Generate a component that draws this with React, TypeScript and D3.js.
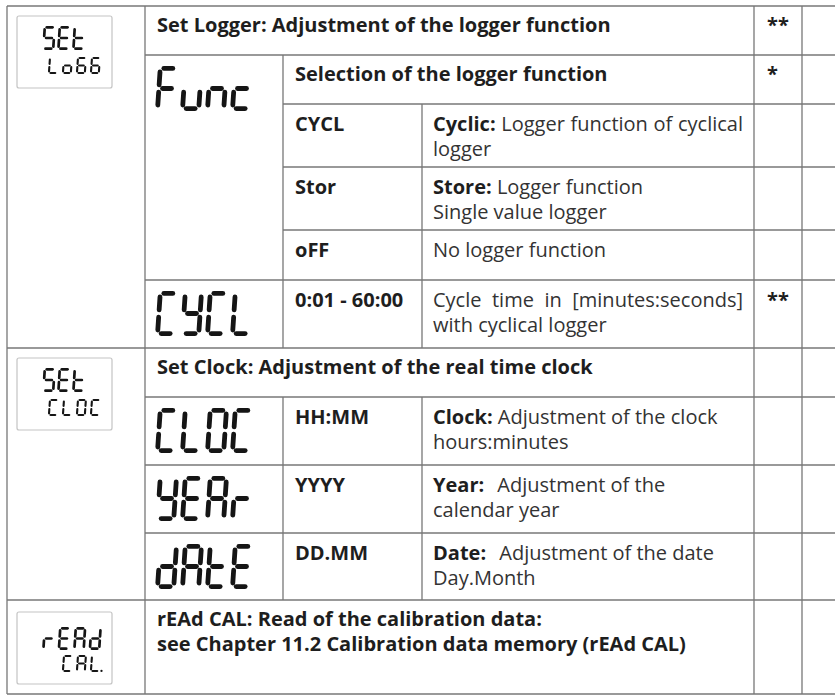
import React, { useLayoutEffect, useRef } from "react";
import * as d3 from "d3";

// ---------- DATA ----------
const sectionTitles: string[][] = [
  ["Set Logger: Adjustment of the logger function"],
  ["Set Clock: Adjustment of the real time clock"],
  ["rEAd CAL: Read of the calibration data:", "see Chapter 11.2 Calibration data memory (rEAd CAL)"],
];
const sectionMarks = ["**", "", ""];
const sectionIcons = [["SEt", "Lo66"], ["SEt", "CLOC"], ["rEAd", "CAL."]];
const paramCodes = ["Func", "CYCL", "CLOC", "YEAr", "dAtE"];
const paramTitle = "Selection of the logger function";
const paramTitleMark = "*";
const optionValues = ["CYCL", "Stor", "oFF", "0:01 - 60:00", "HH:MM", "YYYY", "DD.MM"];
const optionLabels = ["Cyclic:", "Store:", "", "", "Clock:", "Year:", "Date:"];
const optionText: string[][] = [
  ["Logger function of cyclical", "logger"],
  ["Logger function", "Single value logger"],
  ["No logger function"],
  ["Cycle time in [minutes:seconds]", "with cyclical logger"],
  ["Adjustment of the clock", "hours:minutes"],
  ["Adjustment of the", "calendar year"],
  ["Adjustment of the date", "Day.Month"],
];
const optionMarks = ["", "", "", "**", "", "", ""];

// ---------- LAYOUT ----------
const W = 835, H = 695;
const colX = [7, 145, 283, 422, 754, 802, 835];
const rowHeights = [49, 49, 63, 63, 50, 68, 49, 68, 68, 67, 94];
const rowY = [6, ...d3.cumsum(rowHeights).map((v) => v + 6)];
const sectionRows = [0, 6, 10];
const paramRows = [1, 5, 7, 8, 9];
const paramTitleRow = 1;
const optionRows = [2, 3, 4, 5, 7, 8, 9];
const optionJustify = [true, false, false, true, false, false, false];
const optionGap = [0, 0, 0, 0, 0, 8, 8];
const hLines: [number, number][] = [
  [0, 0], [1, 1], [2, 2], [3, 2], [4, 2], [5, 1], [6, 0], [7, 1], [8, 1], [9, 1], [10, 0], [11, 0],
];
const vLines: [number, number, number][] = [
  [0, 0, 11], [1, 0, 11], [4, 0, 11], [5, 0, 11],
  [2, 1, 6], [2, 7, 10], [3, 2, 6], [3, 7, 10],
];
const iconLayout = [
  { box: 10, l1: 10, l2: 41 },
  { box: 10, l1: 10, l2: 41 },
  { box: 12, l1: 15, l2: 43 },
];

const FONT = "'Open Sans', 'Noto Sans', sans-serif";
const FS = 20;
const LINE = 25;
const BASE = 26;
const TITLE_LINE = 25;
const LINE_COLOR = "#777";
const TEXT_BOLD = "#1e1e1e";
const TEXT_REG = "#333";
const INK = "#151515";

// ---------- 7-SEGMENT ----------
const SEG: Record<string, string> = {
  S: "afgcd", E: "afged", t: "fged", L: "fed", o: "gcde", "6": "afgedc",
  F: "afge", u: "cde", n: "egc", c: "ged", C: "afed", Y: "fbgcd",
  O: "abcdef", A: "abcefg", r: "eg", d: "bcdeg",
};

function glyphSegs(ch: string, x0: number, y0: number, w: number, h: number, t: number, slant: number) {
  const segs = SEG[ch] || "";
  const g = t * 0.75;
  const L = t / 2, R = w - t / 2, T = t / 2, B = h - t / 2, M = h / 2;
  const pts: Record<string, number[]> = {
    a: [L + g, T, R - g, T],
    b: [R, T + g, R, M - g],
    c: [R, M + g, R, B - g],
    d: [L + g, B, R - g, B],
    e: [L, M + g, L, B - g],
    f: [L, T + g, L, M - g],
    g: [L + g, M, R - g, M],
  };
  const tx = (px: number, py: number) => x0 + px + slant * (1 - py / h);
  return segs.split("").map((s) => {
    const [x1, y1, x2, y2] = pts[s];
    return { x1: tx(x1, y1), y1: y0 + y1, x2: tx(x2, y2), y2: y0 + y2 };
  });
}

function Lcd({ text, x, y, w, h, pitch, t, slant, anchorEnd = false }: any) {
  const chars = text.split("");
  const nGlyph = chars.filter((c: string) => c !== ".").length;
  const total = (nGlyph - 1) * pitch + w + slant;
  let cx = anchorEnd ? x - total : x;
  const out: any[] = [];
  chars.forEach((ch: string, i: number) => {
    if (ch === ".") {
      const px = cx - pitch + w + t * 0.8;
      out.push(<circle key={i} cx={px} cy={y + h - t / 2} r={t * 0.55} fill={INK} />);
      return;
    }
    glyphSegs(ch, cx, y, w, h, t, slant).forEach((s, j) =>
      out.push(<line key={`${i}-${j}`} {...s} stroke={INK} strokeWidth={t} strokeLinecap="round" />)
    );
    cx += pitch;
  });
  return <g>{out}</g>;
}

// ---------- APP ----------
export default function App() {
  const ref = useRef<SVGGElement>(null);
  const textX2 = colX[1] + 12;
  const textX3 = colX[2] + 12;
  const textX4 = colX[3] + 11;
  const markX = colX[4] + 13;
  const justifyW = colX[4] - colX[3] - 22;

  useLayoutEffect(() => {
    if (!ref.current) return;
    d3.select(ref.current)
      .selectAll<SVGTextElement, unknown>("text[data-justify]")
      .each(function () {
        const el = this as SVGTextElement;
        el.setAttribute("word-spacing", "0");
        const len = el.getComputedTextLength();
        const n = (el.textContent || "").split(" ").length - 1;
        if (n > 0 && len < justifyW) el.setAttribute("word-spacing", String((justifyW - len) / n));
      });
  }, []);

  return (
    <div style={{ position: "absolute", left: 0, top: 0 }}>
      <svg width={W} height={H} viewBox={`0 0 ${W} ${H}`} style={{ display: "block", background: "#fff" }}>
        <rect x={0} y={0} width={W} height={H} fill="#fff" />
        {hLines.map(([r, c], i) => (
          <line key={`h${i}`} x1={colX[c]} x2={W} y1={rowY[r]} y2={rowY[r]} stroke={LINE_COLOR} strokeWidth={1.3} />
        ))}
        {vLines.map(([c, r1, r2], i) => (
          <line key={`v${i}`} x1={colX[c]} x2={colX[c]} y1={rowY[r1]} y2={rowY[r2]} stroke={LINE_COLOR} strokeWidth={1.3} />
        ))}

        {sectionIcons.map((lines, i) => {
          const top = rowY[sectionRows[i]];
          const lay = iconLayout[i];
          const bt = top + lay.box;
          const big = i === 2 ? { w: 12, h: 23, pitch: 15.5 } : { w: 12.5, h: 24, pitch: 15 };
          return (
            <g key={`icon${i}`}>
              <rect x={17} y={bt} width={95} height={72} rx={2} fill="#fff" stroke="#c4c4c4" strokeWidth={1.2} />
              <Lcd text={lines[0]} x={42} y={bt + lay.l1} w={big.w} h={big.h} pitch={big.pitch} t={2.7} slant={1.5} />
              <Lcd text={lines[1]} x={101} y={bt + lay.l2} w={10} h={17} pitch={14} t={2.1} slant={1.2} anchorEnd />
            </g>
          );
        })}

        {paramCodes.map((code, i) => (
          <Lcd key={`p${i}`} text={code} x={155} y={rowY[paramRows[i]] + 11} w={21} h={45} pitch={25} t={4.8} slant={3} />
        ))}

        <g ref={ref} fontFamily={FONT} fontSize={FS}>
          {sectionTitles.map((lines, i) =>
            lines.map((s, j) => (
              <text key={`st${i}-${j}`} x={textX2} y={rowY[sectionRows[i]] + BASE + j * TITLE_LINE} fontWeight={700} fill={TEXT_BOLD}>
                {s}
              </text>
            ))
          )}
          {sectionMarks.map((m, i) => (
            <text key={`sm${i}`} x={markX} y={rowY[sectionRows[i]] + BASE} fontWeight={700} fill={TEXT_BOLD}>{m}</text>
          ))}

          <text x={textX3} y={rowY[paramTitleRow] + BASE} fontWeight={700} fill={TEXT_BOLD}>{paramTitle}</text>
          <text x={markX} y={rowY[paramTitleRow] + BASE} fontWeight={700} fill={TEXT_BOLD}>{paramTitleMark}</text>

          {optionValues.map((v, i) => (
            <text key={`ov${i}`} x={textX3} y={rowY[optionRows[i]] + BASE + 1} fontWeight={700} fill={TEXT_BOLD}>{v}</text>
          ))}
          {optionText.map((lines, i) =>
            lines.map((s, j) => {
              const y = rowY[optionRows[i]] + BASE + 1 + j * LINE;
              const justify = j === 0 && optionJustify[i];
              const label = j === 0 ? optionLabels[i] : "";
              return (
                <text
                  key={`ot${i}-${j}`}
                  x={textX4}
                  y={y}
                  fill={TEXT_REG}
                  {...(justify ? { "data-justify": "1" } : {})}
                >
                  {label && <tspan fontWeight={700} fill={TEXT_BOLD}>{label}</tspan>}
                  <tspan dx={label ? optionGap[i] : 0}>{(label ? " " : "") + s}</tspan>
                </text>
              );
            })
          )}
          {optionMarks.map((m, i) => (
            <text key={`om${i}`} x={markX} y={rowY[optionRows[i]] + BASE + 1} fontWeight={700} fill={TEXT_BOLD}>{m}</text>
          ))}
        </g>
      </svg>
    </div>
  );
}
